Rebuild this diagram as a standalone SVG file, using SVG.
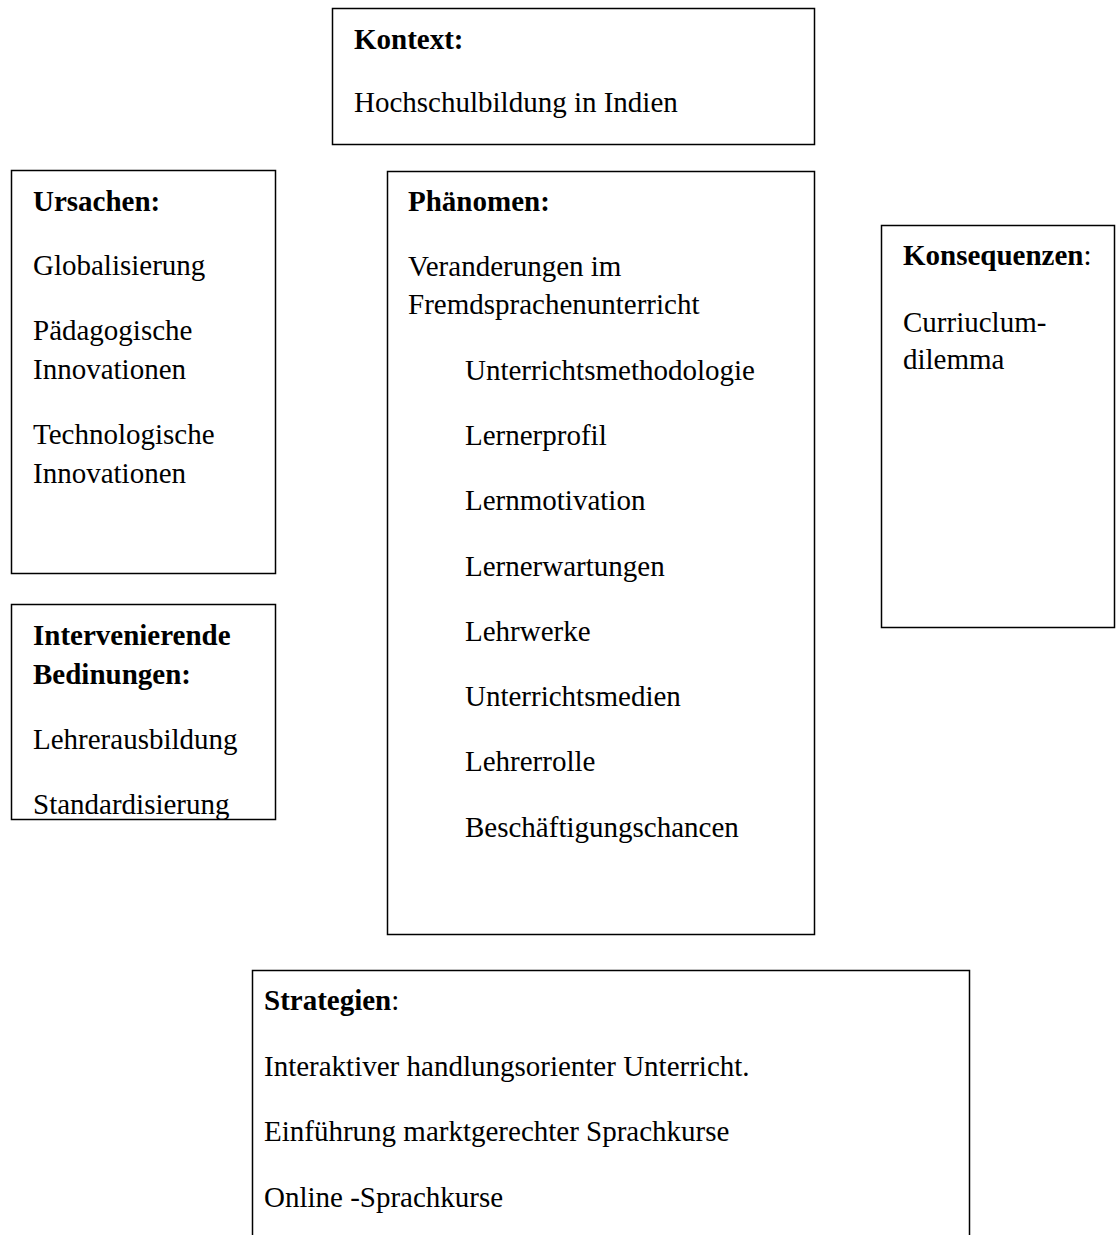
<svg xmlns="http://www.w3.org/2000/svg" width="1118" height="1235" viewBox="0 0 1118 1235">
<style>
rect.box{fill:#fff;stroke:#000;stroke-width:1.5}
text{font-family:"Liberation Serif","Times New Roman",serif;font-size:29px;fill:#000}
.b{font-weight:bold}
</style>
<rect width="1118" height="1235" fill="#fff"/>
<g id="connectors"></g>
<g id="kontext">
<rect class="box" x="332.5" y="8.5" width="482" height="136"/>
<text x="354" y="49" class="b">Kontext:</text>
<text x="354" y="112">Hochschulbildung in Indien</text>
</g>
<g id="ursachen">
<rect class="box" x="11.5" y="170.5" width="264" height="403"/>
<text x="33" y="211" class="b">Ursachen:</text>
<text x="33" y="275">Globalisierung</text>
<text x="33" y="340">Pädagogische</text>
<text x="33" y="379">Innovationen</text>
<text x="33" y="444">Technologische</text>
<text x="33" y="483">Innovationen</text>
</g>
<g id="intervenierende">
<rect class="box" x="11.5" y="604.5" width="264" height="215"/>
<text x="33" y="645" class="b">Intervenierende</text>
<text x="33" y="684" class="b">Bedinungen:</text>
<text x="33" y="749">Lehrerausbildung</text>
<text x="33" y="814">Standardisierung</text>
</g>
<g id="phaenomen">
<rect class="box" x="387.5" y="171.5" width="427" height="763"/>
<text x="408" y="211" class="b">Phänomen:</text>
<text x="408" y="276">Veranderungen im</text>
<text x="408" y="314">Fremdsprachenunterricht</text>
<text x="465" y="380">Unterrichtsmethodologie</text>
<text x="465" y="445">Lernerprofil</text>
<text x="465" y="510">Lernmotivation</text>
<text x="465" y="576">Lernerwartungen</text>
<text x="465" y="641">Lehrwerke</text>
<text x="465" y="706">Unterrichtsmedien</text>
<text x="465" y="771">Lehrerrolle</text>
<text x="465" y="837">Beschäftigungschancen</text>
</g>
<g id="konsequenzen">
<rect class="box" x="881.5" y="225.5" width="233" height="402"/>
<text x="903" y="265"><tspan class="b">Konsequenzen</tspan>:</text>
<text x="903" y="332">Curriuclum-</text>
<text x="903" y="369">dilemma</text>
</g>
<g id="strategien">
<rect class="box" x="252.5" y="970.5" width="717" height="300"/>
<text x="264" y="1010"><tspan class="b">Strategien</tspan>:</text>
<text x="264" y="1076">Interaktiver handlungsorienter Unterricht.</text>
<text x="264" y="1141">Einführung marktgerechter Sprachkurse</text>
<text x="264" y="1207">Online -Sprachkurse</text>
</g>
</svg>
